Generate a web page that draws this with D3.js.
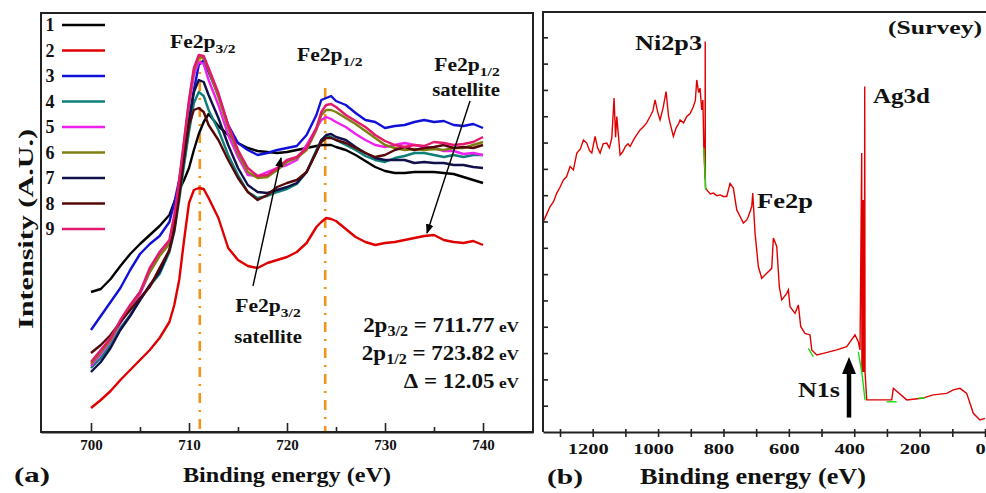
<!DOCTYPE html>
<html>
<head>
<meta charset="utf-8">
<script src="https://cdn.jsdelivr.net/npm/d3@7"></script>
<style>
body { margin: 0; background: #fff; }
svg text { font-family: "Liberation Serif", "Times New Roman", Times, "DejaVu Serif", serif; font-weight: bold; fill: #111; }
</style>
</head>
<body>
<svg id="chart" width="986" height="493"></svg>
<script>
// ---- panel (a): Fe 2p spectra, binding energy grid (eV) ----
var energies = [700,701,702,703,704,705,706,707,708,708.5,709,709.5,710,710.5,711,711.5,712,713,714,715,716,717,718,719,720,721,722,723,723.5,724,724.5,725,726,727,728,729,730,731,732,733,734,735,736,737,738,739,740];

// intensities (A.U.)
var spec1 = [140,143,153,166,178,188,197,206,217,230,242,252,264,282,298,310,318,306,297,289,284,281,280,279,280,282,284,286,287,287,287,285,282,277,271,265,261,259,259,260,260,260,259,258,255,252,249];
var spec2 = [24,32,41,52,62,72,82,94,110,127,152,192,229,242,244,243,234,214,184,172,166,164,169,172,175,180,189,205,210,214,213,211,203,195,190,187,189,190,192,194,196,197,192,190,189,191,187];
var spec3 = [102,116,130,144,162,178,188,196,210,229,252,282,312,342,367,372,360,337,307,289,282,277,279,282,284,286,297,317,332,334,336,331,327,319,312,310,304,306,307,310,312,310,311,307,306,308,304];
var spec4 = [64,74,87,104,117,132,146,158,180,200,232,267,300,329,340,336,322,302,277,257,240,234,236,240,243,248,260,282,292,295,295,292,287,282,276,272,270,274,276,279,279,277,275,277,275,277,277];
var spec5 = [66,78,91,109,125,138,160,177,189,212,247,287,327,357,370,368,352,327,297,275,257,256,260,264,267,272,287,304,312,315,313,310,305,298,292,287,285,287,289,287,285,284,281,281,278,279,277];
var spec6 = [68,80,92,110,126,140,160,176,188,212,249,289,330,362,375,374,362,335,304,279,260,254,255,262,270,274,282,302,317,322,322,320,314,308,301,294,287,284,282,283,282,283,282,284,284,287,290];
var spec7 = [60,70,84,102,116,132,147,160,182,204,237,274,310,340,352,350,337,314,287,264,247,240,239,242,245,249,260,280,292,297,298,295,292,285,279,274,272,272,272,269,270,269,269,267,267,265,264];
var spec8 = [79,87,97,110,122,134,145,164,182,202,237,277,307,322,324,320,307,292,272,254,240,232,237,245,249,252,260,280,290,294,294,292,289,284,279,275,277,282,285,282,284,285,287,284,285,284,287];
var spec9 = [70,82,94,112,127,140,164,180,192,217,252,292,332,364,377,376,364,339,307,282,264,256,257,264,272,275,284,304,320,327,328,325,317,311,305,297,291,287,285,287,286,290,289,287,288,290,295];

var specNames = ["1","2","3","4","5","6","7","8","9"];
var specColors = ["#000000","#e00000","#1010d8","#0f7f7a","#f020f0","#7f7f10","#10104a","#560808","#e4186c"];
var xTicksA = [700,705,710,715,720,725,730,735,740];
var peakEnergy = [711.1, 723.9];
var peakTop = [377, 344];

// ---- panel (b): survey spectrum ----
var surveyBE = [1350.8,1340,1330.3,1320,1309.8,1300,1289.6,1280,1269.1,1259,1248.6,1238,1228.4,1218,1210,1202.8,1192.7,1185,1177.4,1168,1156.9,1149,1141.6,1134.6,1130,1126.3,1116.2,1108,1100,1092,1085.6,1075,1065,1055,1045,1035,1024.5,1016,1009.2,1000,993.9,985,975.5,968,963.3,953.2,945,938,932.7,922,912.2,902,892,886,881.7,876,871.6,866.4,863,860,856.3,855.8,855.3,851.1,840,830.9,820,810.4,800,789.9,779.8,769.7,759.3,749.2,739.1,728.7,723.9,713.5,710.4,703.4,693.3,682.9,667.6,652.3,647.4,637,629.1,621.7,606.4,601.5,596.3,581,570.9,563.6,550.5,535.2,530,514.7,494.5,453.5,422.9,397.6,387.5,382.3,377.1,376.5,375.9,375.2,374.6,374,373.4,372.8,372.2,369,367.9,367,361.8,321.1,290,285.3,280.4,239.4,193.6,158.1,117.1,96.9,76.5,56,35.8,15.3,0];
var surveyCounts = [8.00,8.30,8.57,8.75,9.08,9.30,9.58,9.70,10.09,9.96,10.60,10.75,11.10,10.98,10.70,10.60,11.23,10.80,10.60,10.95,10.98,10.80,11.17,12.69,11.20,11.99,10.53,10.65,10.85,10.95,10.85,11.10,11.30,11.48,11.60,11.75,11.99,12.20,12.62,12.10,11.86,12.30,12.94,12.00,11.74,11.23,11.55,11.70,11.86,11.75,11.99,12.10,12.37,12.60,13.38,12.90,13.07,12.24,12.62,10.80,9.60,14.84,9.30,9.20,9.05,9.08,8.98,9.01,8.95,8.95,9.45,9.27,8.44,8.19,7.94,8.06,8.19,8.57,9.08,7.56,6.29,5.84,6.03,6.22,7.37,7.05,5.52,5.02,5.27,5.40,4.76,4.51,4.83,4.00,3.75,3.69,3.12,2.93,2.99,3.12,3.24,3.69,3.43,3.12,10.60,2.28,8.82,2.28,8.82,2.28,8.82,2.28,8.82,2.28,13.13,2.28,1.22,1.22,1.22,1.22,1.66,1.22,1.28,1.41,1.47,1.60,1.66,1.47,0.71,0.46,0.52,0.08];
// fitted background pieces drawn in green
var greenBE = [[860,854.1],[540.4,525.1],[387.5,376,367],[300.6,270],[204,183.5]];
var greenCounts = [[10.8,9.2],[3.18,2.86],[3.05,2.2,1.22],[1.15,1.15],[1.28,1.29]];
var xTicksB = d3.range(0, 1301, 100);

var svg = d3.select("#chart");

var defs = svg.append("defs");
defs.append("marker").attr("id", "head")
  .attr("viewBox", "0 0 10 10").attr("refX", 9).attr("refY", 5)
  .attr("markerWidth", 7).attr("markerHeight", 7).attr("orient", "auto")
  .append("path").attr("d", "M0,1 L10,5 L0,9 z").attr("fill", "#000");

// text squeezed/stretched horizontally like the printed figure
function label(g, x, y, size, sx, anchor) {
  return g.append("text")
    .attr("transform", "translate(" + x + "," + y + ") scale(" + sx + ",1)")
    .attr("font-size", size).attr("text-anchor", anchor || "start");
}
function fitText(g, x, y, size, len, str, anchor) {
  return g.append("text").attr("x", x).attr("y", y).attr("font-size", size)
    .attr("text-anchor", anchor || "start")
    .attr("textLength", len).attr("lengthAdjust", "spacingAndGlyphs").text(str);
}
function subLabel(g, x, y, main, sub, size, sx, anchor) {
  var t = label(g, x, y, size, sx, anchor);
  t.append("tspan").text(main);
  t.append("tspan").attr("font-size", size * 0.72).attr("dy", size * 0.25).text(sub);
  return t;
}

// ================= panel (a) =================
var xA = d3.scaleLinear().domain([694.9, 745.1]).range([41, 533]);
var yA = d3.scaleLinear().domain([0, 419]).range([432, 13]);

var gA = svg.append("g");

var allSpec = [spec1, spec2, spec3, spec4, spec5, spec6, spec7, spec8, spec9];
var lineA = d3.line().x(d => xA(d[0])).y(d => yA(d[1]));

// orange dash-dot peak markers
gA.selectAll("line.peak").data(peakEnergy).enter().append("line")
  .attr("class", "peak")
  .attr("x1", d => xA(d)).attr("x2", d => xA(d))
  .attr("y1", (d, i) => yA(peakTop[i])).attr("y2", yA(0))
  .attr("stroke", "#f39419").attr("stroke-width", 2.6)
  .attr("stroke-dasharray", "10,7,2,7");

gA.selectAll("path.spec").data(allSpec).enter().append("path")
  .attr("class", "spec")
  .attr("d", s => lineA(energies.map((e, i) => [e, s[i]])))
  .attr("fill", "none")
  .attr("stroke", (s, i) => specColors[i])
  .attr("stroke-width", 2.4)
  .attr("stroke-linejoin", "round");

// frame
gA.append("rect").attr("x", 41).attr("y", 13).attr("width", 492).attr("height", 419)
  .attr("fill", "none").attr("stroke", "#222").attr("stroke-width", 2);

var axA = gA.append("g").attr("transform", "translate(0,432)")
  .call(d3.axisBottom(xA).tickValues(xTicksA).tickSizeInner(-9).tickSizeOuter(0).tickPadding(7)
    .tickFormat(d => d % 10 === 0 ? d : ""));
axA.select(".domain").attr("stroke", "#222").attr("stroke-width", 2);
axA.selectAll(".tick line").attr("stroke", "#222").attr("stroke-width", 1.6)
  .attr("y2", d => d % 10 === 0 ? -9 : -5);
axA.selectAll(".tick text").attr("font-size", 15);

// legend
var leg = gA.selectAll("g.leg").data(specNames).enter().append("g")
  .attr("class", "leg")
  .attr("transform", (d, i) => "translate(0," + (25 + i * 25.5) + ")");
leg.append("text").attr("x", 50).attr("y", 6).attr("text-anchor", "middle")
  .attr("font-size", 18).text(d => d);
leg.append("line").attr("x1", 62).attr("x2", 105).attr("y1", 0).attr("y2", 0)
  .attr("stroke", (d, i) => specColors[i]).attr("stroke-width", 2.4);

subLabel(gA, 170, 48, "Fe2p", "3/2", 18, 1.2);
subLabel(gA, 297, 61, "Fe2p", "1/2", 18, 1.2);
subLabel(gA, 467, 71, "Fe2p", "1/2", 18, 1.2, "middle");
label(gA, 466, 96, 18, 1.15, "middle").text("satellite");
subLabel(gA, 268, 312, "Fe2p", "3/2", 18, 1.2, "middle");
label(gA, 268, 343, 18, 1.15, "middle").text("satellite");

// annotation arrows
gA.append("line").attr("x1", 470).attr("y1", 101).attr("x2", 427).attr("y2", 233)
  .attr("stroke", "#000").attr("stroke-width", 1.4).attr("marker-end", "url(#head)");
gA.append("line").attr("x1", 253).attr("y1", 286).attr("x2", 281).attr("y2", 158)
  .attr("stroke", "#000").attr("stroke-width", 1.4).attr("marker-end", "url(#head)");

// binding energy results
var eqs = [["2p", "3/2", " = 711.77"], ["2p", "1/2", " = 723.82"], ["\u0394", "", " = 12.05"]];
eqs.forEach(function (q, i) {
  var t = label(gA, 519, 332 + i * 28, 20, 1.15, "end");
  t.append("tspan").text(q[0]);
  if (q[1]) {
    t.append("tspan").attr("font-size", 14).attr("dy", 4).text(q[1]);
    t.append("tspan").attr("dy", -4).text(q[2]);
  } else {
    t.append("tspan").text(q[2]);
  }
  t.append("tspan").attr("font-size", 15).text(" eV");
});

svg.append("text").attr("transform", "translate(33,229) rotate(-90)").attr("text-anchor", "middle")
  .attr("font-size", 22).attr("textLength", 200).attr("lengthAdjust", "spacingAndGlyphs")
  .text("Intensity (A.U.)");
fitText(svg, 287, 482, 22, 208, "Binding energy (eV)", "middle");
fitText(svg, 14, 482, 22, 36, "(a)");

// ================= panel (b) =================
var xB = d3.scaleLinear().domain([1352, 0]).range([543, 985]);
var yB = d3.scaleLinear().domain([0, 16]).range([432, 11]);
var gB = svg.append("g");

gB.append("path")
  .attr("d", d3.line().x(d => xB(d[0])).y(d => yB(d[1]))(surveyBE.map((e, i) => [e, surveyCounts[i]])))
  .attr("fill", "none").attr("stroke", "#e00000").attr("stroke-width", 1.4);

gB.selectAll("path.fit").data(greenBE).enter().append("path")
  .attr("class", "fit")
  .attr("d", (b, k) => d3.line().x(d => xB(d[0])).y(d => yB(d[1]))(b.map((e, i) => [e, greenCounts[k][i]])))
  .attr("fill", "none").attr("stroke", "#10e010").attr("stroke-width", 1.4);

gB.append("path").attr("d", "M543,432 L543,12 L990,12")
  .attr("fill", "none").attr("stroke", "#222").attr("stroke-width", 2);

var axB = gB.append("g").attr("transform", "translate(0,432)")
  .call(d3.axisBottom(xB).tickValues(xTicksB).tickSizeInner(5).tickSizeOuter(0).tickPadding(6)
    .tickFormat(d => d % 200 === 0 ? d : ""));
axB.select(".domain").attr("stroke", "#222").attr("stroke-width", 2);
axB.selectAll(".tick line").attr("stroke", "#222").attr("stroke-width", 1.6).attr("y1", -3);
axB.selectAll(".tick text").attr("font-size", 15).attr("dx", -5)
  .filter(d => d % 200 === 0)
  .attr("textLength", d => String(d).length * 10.2).attr("lengthAdjust", "spacingAndGlyphs");

var ayB = gB.append("g").attr("transform", "translate(543,0)")
  .call(d3.axisRight(yB).tickValues(d3.range(1, 16)).tickSize(5).tickFormat(""));
ayB.select(".domain").remove();
ayB.selectAll(".tick line").attr("stroke", "#222").attr("stroke-width", 1.6);

fitText(gB, 982, 34, 18, 94, "(Survey)", "end");
fitText(gB, 702, 50, 20, 67, "Ni2p3", "end");
fitText(gB, 873, 103, 20, 57, "Ag3d");
fitText(gB, 757, 208, 20, 56, "Fe2p");
fitText(gB, 840, 397, 20, 42, "N1s", "end");

// N1s arrow
var n1s = 416;
gB.append("line").attr("x1", xB(n1s)).attr("x2", xB(n1s)).attr("y1", yB(0.55)).attr("y2", yB(2.3))
  .attr("stroke", "#000").attr("stroke-width", 4.5);
gB.append("path")
  .attr("d", "M" + (xB(n1s) - 7) + "," + yB(2.2) + " L" + (xB(n1s) + 7) + "," + yB(2.2) + " L" + xB(n1s) + "," + yB(2.85) + " z")
  .attr("fill", "#000");

fitText(svg, 547, 484, 22, 36, "(b)");
fitText(svg, 753, 484, 23, 226, "Binding energy (eV)", "middle");
</script>
</body>
</html>
